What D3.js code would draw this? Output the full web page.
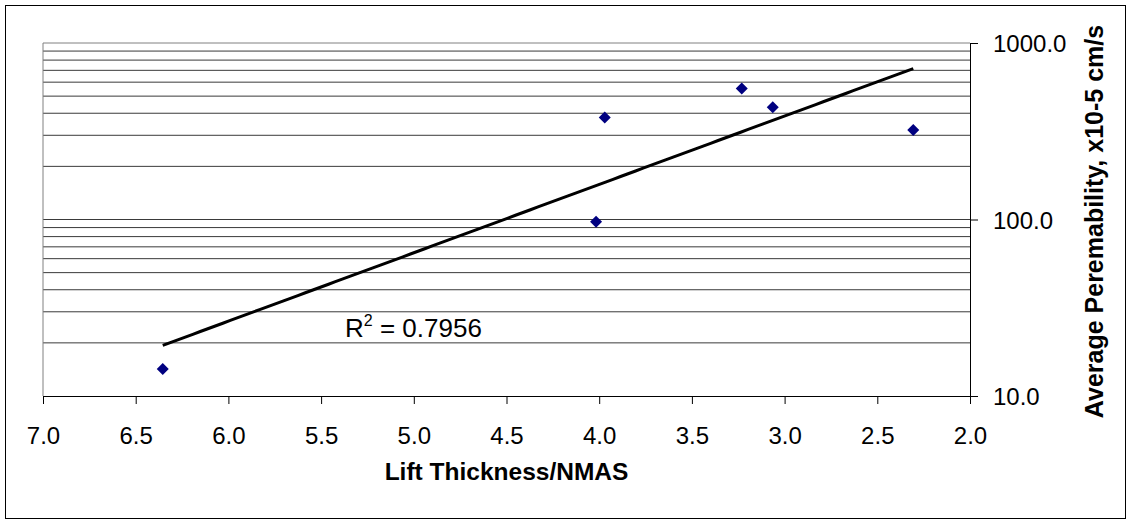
<!DOCTYPE html>
<html>
<head>
<meta charset="utf-8">
<script src="https://cdn.jsdelivr.net/npm/d3@7/dist/d3.min.js"></script>
<style>
  html, body { margin: 0; padding: 0; background: #fff; }
  svg { display: block; }
  text { font-family: "Liberation Sans", Arial, sans-serif; fill: #000; }
</style>
</head>
<body>
<svg id="chart" width="1131" height="524"></svg>
<script>
// Lift thickness / NMAS ratio for each section
const liftRatio = [6.354, 3.970, 4.017, 3.231, 3.064, 2.306];
// Average permeability, x10^-5 cm/s
const permeability = [14.2, 378, 97.2, 553, 433, 321];

const xTicks = [7.0, 6.5, 6.0, 5.5, 5.0, 4.5, 4.0, 3.5, 3.0, 2.5, 2.0];
const yTicks = [10, 100, 1000];
const yGrid = [20, 30, 40, 50, 60, 70, 80, 90, 100, 200, 300, 400, 500, 600, 700, 800, 900, 1000];

const xTitle = "Lift Thickness/NMAS";
const yTitle = "Average Peremability, x10-5 cm/s";

const svg = d3.select("#chart");
const W = 1131, H = 524;
const plot = { left: 43, right: 970, top: 43, bottom: 396 };

// outer chart frame
svg.append("rect")
  .attr("x", 5.5).attr("y", 5.5)
  .attr("width", W - 11).attr("height", H - 11)
  .attr("fill", "#fff").attr("stroke", "#000").attr("stroke-width", 1);

const x = d3.scaleLinear().domain([7, 2]).range([plot.left, plot.right]);
const y = d3.scaleLog().domain([10, 1000]).range([plot.bottom, plot.top]);

// horizontal gridlines (major + minor decades)
svg.append("g").selectAll("line").data(yGrid).join("line")
  .attr("x1", plot.left).attr("x2", plot.right)
  .attr("y1", d => y(d)).attr("y2", d => y(d))
  .attr("stroke", d => d === 1000 ? "#808080" : "#3a3a3a")
  .attr("stroke-width", 1);

// left edge of plot area
svg.append("line")
  .attr("x1", plot.left).attr("x2", plot.left)
  .attr("y1", plot.top).attr("y2", plot.bottom)
  .attr("stroke", "#808080").attr("stroke-width", 1);

// x axis
const fontSize = 24;
const gx = svg.append("g")
  .attr("transform", `translate(0,${plot.bottom})`)
  .call(d3.axisBottom(x).tickValues(xTicks).tickFormat(d3.format(".1f"))
    .tickSize(8).tickSizeOuter(0).tickPadding(23));
gx.select(".domain").attr("stroke", "#000");
gx.selectAll(".tick line").attr("stroke", "#000");
gx.selectAll("text").attr("font-size", fontSize)
  .style("font-family", "'Liberation Sans', Arial, sans-serif").attr("fill", "#000");

// y axis on the right
const gy = svg.append("g")
  .attr("transform", `translate(${plot.right},0)`)
  .call(d3.axisRight(y).tickValues(yTicks).tickFormat(d3.format(".1f"))
    .tickSize(8).tickSizeOuter(0).tickPadding(15));
gy.select(".domain").attr("stroke", "#000");
gy.selectAll(".tick line").attr("stroke", "#000");
gy.selectAll("text").attr("font-size", fontSize).attr("dy", "0.36em")
  .style("font-family", "'Liberation Sans', Arial, sans-serif").attr("fill", "#000");

// exponential trendline: least squares on log10(permeability)
const n = liftRatio.length;
const ly = permeability.map(v => Math.log10(v));
const mx = d3.mean(liftRatio), my = d3.mean(ly);
let sxy = 0, sxx = 0;
for (let i = 0; i < n; i++) {
  sxy += (liftRatio[i] - mx) * (ly[i] - my);
  sxx += (liftRatio[i] - mx) ** 2;
}
const slope = sxy / sxx, intercept = my - slope * mx;
const xr = d3.extent(liftRatio);
const trend = d3.range(0, 101).map(i => {
  const xv = xr[1] - (xr[1] - xr[0]) * i / 100;
  return [xv, Math.pow(10, intercept + slope * xv)];
});
svg.append("path")
  .datum(trend)
  .attr("fill", "none").attr("stroke", "#000").attr("stroke-width", 3)
  .attr("stroke-linejoin", "round")
  .attr("d", d3.line().x(d => x(d[0])).y(d => y(d[1])));

// data markers (diamonds)
svg.append("g").selectAll("path").data(liftRatio).join("path")
  .attr("transform", (d, i) => `translate(${x(d)},${y(permeability[i])})`)
  .attr("d", "M0,-6L6,0L0,6L-6,0Z")
  .attr("fill", "#000080");

// R-squared label
const r2 = svg.append("text")
  .attr("x", 345).attr("y", 337)
  .attr("font-size", 26);
r2.append("tspan").text("R");
r2.append("tspan").attr("font-size", 16).attr("dy", -11).text("2");
r2.append("tspan").attr("dy", 11).text(" = 0.7956");

// axis titles
svg.append("text")
  .attr("x", (plot.left + plot.right) / 2).attr("y", 480)
  .attr("text-anchor", "middle")
  .attr("font-size", 24.5).attr("font-weight", "bold")
  .text(xTitle);

svg.append("text")
  .attr("transform", `translate(1103,${(plot.top + plot.bottom) / 2 + 2}) rotate(-90)`)
  .attr("text-anchor", "middle")
  .attr("font-size", 25).attr("font-weight", "bold")
  .text(yTitle);
</script>
</body>
</html>
